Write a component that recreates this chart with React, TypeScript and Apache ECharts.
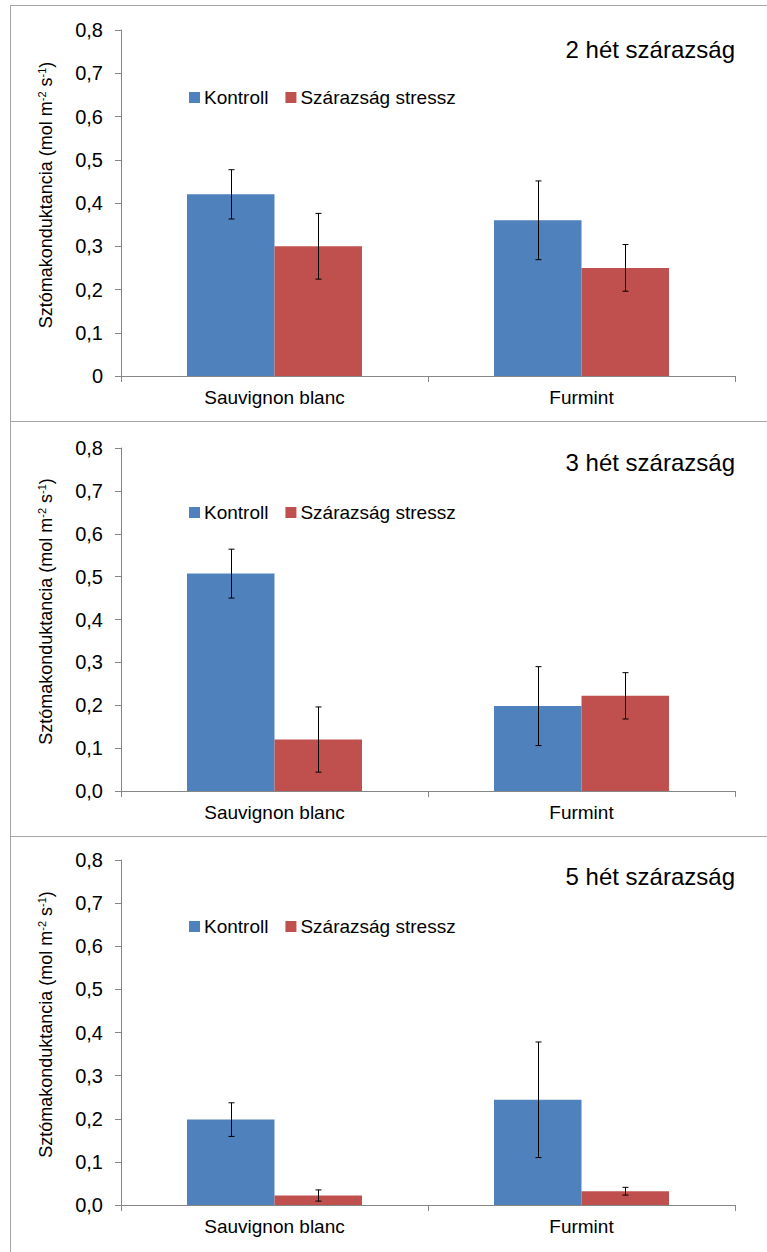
import React, { useEffect, useRef } from "react";
import * as echarts from "echarts";

const categories = ["Sauvignon blanc", "Furmint"];
const seriesNames = ["Kontroll", "Szárazság stressz"];
const panelTitles = ["2 hét szárazság", "3 hét szárazság", "5 hét szárazság"];

const kontroll2 = [0.42, 0.36];
const kontrollErr2 = [0.057, 0.091];
const stressz2 = [0.3, 0.25];
const stresszErr2 = [0.076, 0.054];

const kontroll3 = [0.507, 0.198];
const kontrollErr3 = [0.057, 0.092];
const stressz3 = [0.12, 0.222];
const stresszErr3 = [0.076, 0.054];

const kontroll5 = [0.198, 0.244];
const kontrollErr5 = [0.039, 0.134];
const stressz5 = [0.022, 0.032];
const stresszErr5 = [0.013, 0.009];

const yTicks = [0, 0.1, 0.2, 0.3, 0.4, 0.5, 0.6, 0.7, 0.8];

const BLUE = "#4F81BD";
const RED = "#C0504D";
const AXIS = "#868686";
const FONT = "'Liberation Sans', Arial, sans-serif";

const panels = [
  { kontroll: kontroll2, kErr: kontrollErr2, stressz: stressz2, sErr: stresszErr2, zeroLabel: "0" },
  { kontroll: kontroll3, kErr: kontrollErr3, stressz: stressz3, sErr: stresszErr3, zeroLabel: "0,0" },
  { kontroll: kontroll5, kErr: kontrollErr5, stressz: stressz5, sErr: stresszErr5, zeroLabel: "0,0" },
];

const layout = [
  { top: 30, height: 346, titleTop: 37, legendTop: 88 },
  { top: 448, height: 343, titleTop: 450, legendTop: 503 },
  { top: 860, height: 345, titleTop: 864, legendTop: 917 },
];

const GAP = 0.43;

function errorBarSeries(values: number[], errs: number[], side: number, idx: number) {
  return {
    type: "custom",
    xAxisIndex: idx,
    yAxisIndex: idx,
    z: 10,
    silent: true,
    encode: { x: 0, y: 1 },
    data: values.map((v, i) => [i, v, errs[i]]),
    renderItem: (params: any, api: any) => {
      const cat = api.value(0);
      const v = api.value(1);
      const e = api.value(2);
      const catW = api.size([1, 0])[0];
      const off = side * catW * ((1 - GAP) / 4);
      const top = api.coord([cat, v + e]);
      const bot = api.coord([cat, Math.max(0, v - e)]);
      const x = Math.round(top[0] + off) + 0.5;
      const cap = 3;
      const st = { stroke: "#000", lineWidth: 1 };
      return {
        type: "group",
        children: [
          { type: "line", shape: { x1: x, y1: top[1], x2: x, y2: bot[1] }, style: st },
          { type: "line", shape: { x1: x - cap, y1: top[1], x2: x + cap, y2: top[1] }, style: st },
          { type: "line", shape: { x1: x - cap, y1: bot[1], x2: x + cap, y2: bot[1] }, style: st },
        ],
      };
    },
  };
}

export default function App() {
  const ref = useRef<HTMLDivElement>(null);

  useEffect(() => {
    if (!ref.current) return;
    const chart = echarts.init(ref.current, null, { renderer: "svg" });

    const grids = layout.map((l) => ({ left: 121, right: 32, top: l.top, height: l.height, containLabel: false }));

    const xAxes = layout.map((_, i) => ({
      type: "category",
      gridIndex: i,
      data: categories,
      axisLine: { lineStyle: { color: AXIS, width: 1 } },
      axisTick: { show: true, length: 6, lineStyle: { color: AXIS } },
      axisLabel: { color: "#000", fontSize: 19, fontFamily: FONT, margin: 12 },
    }));

    const yAxes = panels.map((p, i) => ({
      type: "value",
      gridIndex: i,
      min: 0,
      max: 0.8,
      interval: 0.1,
      splitLine: { show: false },
      axisLine: { show: true, lineStyle: { color: AXIS, width: 1 } },
      axisTick: { show: true, length: 6, lineStyle: { color: AXIS } },
      axisLabel: {
        color: "#000",
        fontSize: 20,
        fontFamily: FONT,
        margin: 18,
        formatter: (v: number) => {
          const t = yTicks.find((k) => Math.abs(k - v) < 1e-6);
          const val = t === undefined ? v : t;
          if (val === 0) return p.zeroLabel;
          return val.toFixed(1).replace(".", ",");
        },
      },
      name: "Sztómakonduktancia (mol m{sup|-2} s{sup|-1})",
      nameLocation: "middle",
      nameRotate: 90,
      nameGap: 65,
      nameTextStyle: {
        color: "#000",
        fontSize: 18,
        fontFamily: FONT,
        padding: [0, 0, 0, 16],
        rich: {
          sup: { fontSize: 11, fontFamily: FONT, color: "#000", verticalAlign: "top", lineHeight: 20 },
        },
      },
    }));

    const series: any[] = [];
    panels.forEach((p, i) => {
      series.push({
        name: seriesNames[0],
        type: "bar",
        xAxisIndex: i,
        yAxisIndex: i,
        data: p.kontroll,
        barGap: "0%",
        barCategoryGap: GAP * 100 + "%",
        itemStyle: { color: BLUE },
      });
      series.push({
        name: seriesNames[1],
        type: "bar",
        xAxisIndex: i,
        yAxisIndex: i,
        data: p.stressz,
        barGap: "0%",
        barCategoryGap: GAP * 100 + "%",
        itemStyle: { color: RED },
      });
      series.push(errorBarSeries(p.kontroll, p.kErr, -1, i));
      series.push(errorBarSeries(p.stressz, p.sErr, 1, i));
    });

    const titles = layout.map((l, i) => ({
      text: panelTitles[i],
      right: 32,
      top: l.titleTop,
      padding: 0,
      textStyle: { color: "#000", fontSize: 24, fontWeight: "normal", fontFamily: FONT },
    }));

    const legends = layout.map((l) => ({
      data: seriesNames,
      left: 189,
      top: l.legendTop,
      orient: "horizontal",
      padding: 0,
      itemWidth: 11,
      itemHeight: 11,
      itemGap: 17,
      icon: "rect",
      selectedMode: false,
      textStyle: { color: "#000", fontSize: 19, fontFamily: FONT, padding: [0, 0, 0, -1] },
    }));

    const borderStyle = { stroke: "#A6A6A6", lineWidth: 1 };
    const graphic = [
      { type: "line", shape: { x1: 10, y1: 5.5, x2: 767, y2: 5.5 }, style: borderStyle, silent: true },
      { type: "line", shape: { x1: 10.5, y1: 5, x2: 10.5, y2: 1252 }, style: borderStyle, silent: true },
      { type: "line", shape: { x1: 10, y1: 421.5, x2: 767, y2: 421.5 }, style: borderStyle, silent: true },
      { type: "line", shape: { x1: 10, y1: 836.5, x2: 767, y2: 836.5 }, style: borderStyle, silent: true },
    ];

    chart.setOption({
      animation: false,
      backgroundColor: "#fff",
      title: titles,
      legend: legends,
      grid: grids,
      xAxis: xAxes,
      yAxis: yAxes,
      series,
      graphic,
    });

    return () => chart.dispose();
  }, []);

  return (
    <div
      ref={ref}
      style={{ position: "absolute", left: 0, top: 0, width: 767, height: 1252, background: "#fff" }}
    />
  );
}
